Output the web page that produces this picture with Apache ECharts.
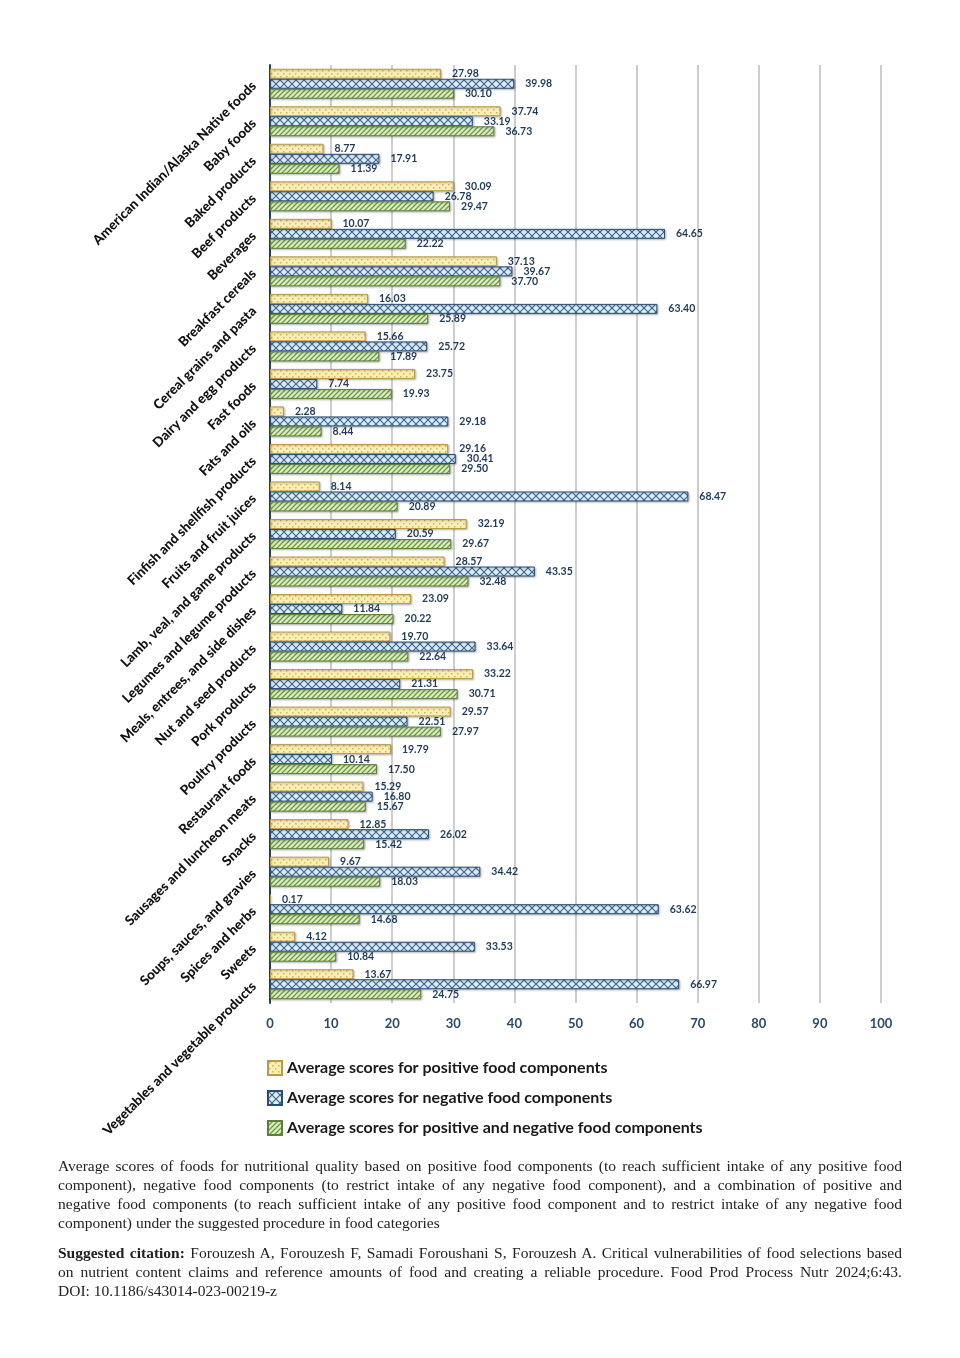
<!DOCTYPE html>
<html>
<head>
<meta charset="utf-8">
<script src="https://cdn.jsdelivr.net/npm/echarts@6/dist/echarts.min.js"></script>
<style>
  html, body { margin: 0; padding: 0; background: #fff; }
  #chart { width: 960px; height: 1358px; }
  .note {
    position: absolute; left: 58px; width: 844px;
    font-family: "Liberation Serif", serif; font-size: 15.5px; line-height: 19px;
    color: #222;
  }
  .note span { display: block; white-space: nowrap; text-align: justify; text-align-last: justify; }
  .note span.last { text-align-last: left; }
</style>
</head>
<body>
<div id="chart"></div>
<div class="note" style="top:1156px">
  <span>Average scores of foods for nutritional quality based on positive food components (to reach sufficient intake of any positive food</span>
  <span>component), negative food components (to restrict intake of any negative food component), and a combination of positive and</span>
  <span>negative food components (to reach sufficient intake of any positive food component and to restrict intake of any negative food</span>
  <span class="last">component) under the suggested procedure in food categories</span>
</div>
<div class="note" style="top:1243px">
  <span><b>Suggested citation:</b> Forouzesh A, Forouzesh F, Samadi Foroushani S, Forouzesh A. Critical vulnerabilities of food selections based</span>
  <span>on nutrient content claims and reference amounts of food and creating a reliable procedure. Food Prod Process Nutr 2024;6:43.</span>
  <span class="last">DOI: 10.1186/s43014-023-00219-z</span>
</div>
<script>
// categories, top to bottom
const categories = [
  'American Indian/Alaska Native foods', 'Baby foods', 'Baked products', 'Beef products',
  'Beverages', 'Breakfast cereals', 'Cereal grains and pasta', 'Dairy and egg products',
  'Fast foods', 'Fats and oils', 'Finfish and shellfish products', 'Fruits and fruit juices',
  'Lamb, veal, and game products', 'Legumes and legume products', 'Meals, entrees, and side dishes',
  'Nut and seed products', 'Pork products', 'Poultry products', 'Restaurant foods',
  'Sausages and luncheon meats', 'Snacks', 'Soups, sauces, and gravies', 'Spices and herbs',
  'Sweets', 'Vegetables and vegetable products'
]
const positiveScores = [27.98, 37.74, 8.77, 30.09, 10.07, 37.13, 16.03, 15.66, 23.75, 2.28, 29.16, 8.14, 32.19,
  28.57, 23.09, 19.70, 33.22, 29.57, 19.79, 15.29, 12.85, 9.67, 0.17, 4.12, 13.67]
const negativeScores = [39.98, 33.19, 17.91, 26.78, 64.65, 39.67, 63.40, 25.72, 7.74, 29.18, 30.41, 68.47, 20.59,
  43.35, 11.84, 33.64, 21.31, 22.51, 10.14, 16.80, 26.02, 34.42, 63.62, 33.53, 66.97]
const combinedScores = [30.10, 36.73, 11.39, 29.47, 22.22, 37.70, 25.89, 17.89, 19.93, 8.44, 29.50, 20.89, 29.67,
  32.48, 20.22, 22.64, 30.71, 27.97, 17.50, 15.67, 15.42, 18.03, 14.68, 10.84, 24.75]
const seriesNames = [
  'Average scores for positive food components',
  'Average scores for negative food components',
  'Average scores for positive and negative food components'
]

// fill patterns
function makePattern (size, bg, draw) {
  const c = document.createElement('canvas')
  c.width = size
  c.height = size
  const ctx = c.getContext('2d')
  ctx.fillStyle = bg
  ctx.fillRect(0, 0, size, size)
  draw(ctx)
  return { image: c, repeat: 'repeat' }
}
const dots = makePattern(6, '#fbefb4', ctx => {
  ctx.fillStyle = '#d2b465'
  ctx.fillRect(1, 1, 1.5, 1.5)
  ctx.fillRect(4, 4, 1.5, 1.5)
})
const cross = makePattern(8, '#dcecf8', ctx => {
  ctx.strokeStyle = '#3f6791'
  ctx.lineWidth = 1.2
  ctx.beginPath()
  ctx.moveTo(0, 0); ctx.lineTo(8, 8)
  ctx.moveTo(0, 8); ctx.lineTo(8, 0)
  ctx.stroke()
})
const stripes = makePattern(5, '#dcedc6', ctx => {
  ctx.strokeStyle = '#6f9a44'
  ctx.lineWidth = 1.3
  ctx.beginPath()
  ctx.moveTo(0, 5); ctx.lineTo(5, 0)
  ctx.moveTo(-1, 1); ctx.lineTo(1, -1)
  ctx.moveTo(4, 6); ctx.lineTo(6, 4)
  ctx.stroke()
})

const myChart = echarts.init(document.getElementById('chart'))

function barSeries (name, data, fill, border) {
  return {
    name: name,
    type: 'bar',
    barWidth: 10,
    barGap: '0%',
    data: data,
    itemStyle: {
      color: fill,
      borderColor: border,
      borderWidth: 1,
      shadowColor: 'rgba(0,0,0,0.25)',
      shadowBlur: 2,
      shadowOffsetX: 1,
      shadowOffsetY: 1
    },
    label: {
      show: true,
      position: 'right',
      distance: 11,
      fontFamily: 'Lato',
      fontWeight: 'bold',
      fontSize: 10.5,
      color: '#1f3a5a',
      formatter: p => p.value.toFixed(2)
    }
  }
}

const option = {
  animation: false,
  grid: {
    left: 270,
    right: 79,
    top: 65,
    bottom: 355
  },
  legend: {
    orient: 'vertical',
    left: 262,
    top: 1055,
    itemWidth: 14,
    itemHeight: 14,
    itemGap: 14,
    icon: 'rect',
    textStyle: {
      fontFamily: 'Lato',
      fontWeight: 'bold',
      fontSize: 16,
      color: '#1a1a1a'
    },
    data: seriesNames
  },
  xAxis: {
    type: 'value',
    min: 0,
    max: 100,
    interval: 10,
    axisLine: { show: false },
    axisTick: { show: false },
    splitLine: {
      lineStyle: { color: '#cdcdcd', width: 2 }
    },
    axisLabel: {
      margin: 14,
      fontFamily: 'Lato',
      fontWeight: 'bold',
      fontSize: 13,
      color: '#2a4a6c'
    }
  },
  yAxis: {
    type: 'category',
    inverse: true,
    data: categories,
    axisLine: {
      lineStyle: { color: '#1f3f60', width: 2 }
    },
    axisTick: { show: false },
    axisLabel: {
      rotate: 45,
      margin: 16,
      fontFamily: 'Lato',
      fontWeight: 900,
      fontSize: 13.5,
      color: '#111'
    }
  },
  series: [
    barSeries(seriesNames[0], positiveScores, dots, '#b89a4c'),
    barSeries(seriesNames[1], negativeScores, cross, '#2b4c70'),
    barSeries(seriesNames[2], combinedScores, stripes, '#5d7f3a')
  ]
}
myChart.setOption(option)
</script>
</body>
</html>
